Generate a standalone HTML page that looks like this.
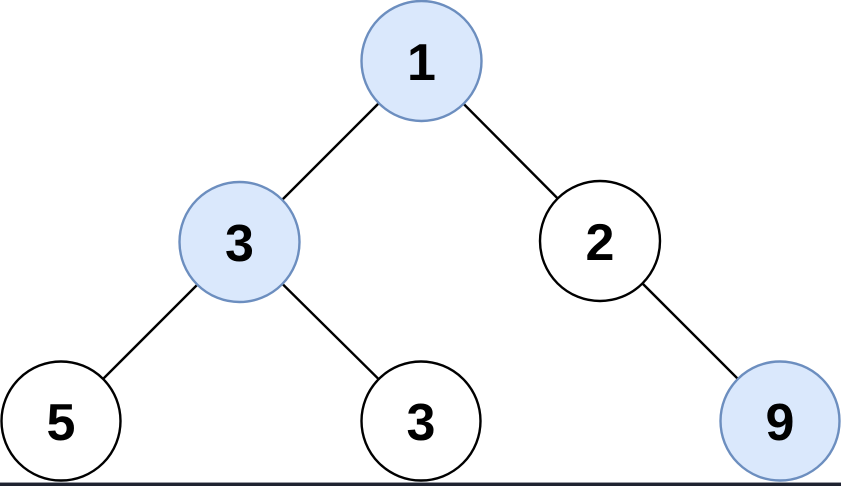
<!DOCTYPE html>
<html>
<head>
<meta charset="utf-8">
<style>
  html, body { margin: 0; padding: 0; background: #ffffff; }
  body { width: 841px; height: 486px; overflow: hidden; position: relative; }
  svg { position: absolute; left: 0; top: 0; }
  text { font-family: "Liberation Sans", Arial, sans-serif; font-weight: bold; font-size: 52px; fill: #000; }
</style>
</head>
<body>
<svg width="841" height="486" viewBox="0 0 841 486" xmlns="http://www.w3.org/2000/svg">
  <rect x="0" y="0" width="841" height="486" fill="#ffffff"/>
  <g stroke="#000" stroke-width="2.4" fill="none">
    <line x1="421" y1="61" x2="240" y2="242"/>
    <line x1="421" y1="61" x2="600" y2="241"/>
    <line x1="240" y1="242" x2="61" y2="421"/>
    <line x1="240" y1="242" x2="421" y2="421"/>
    <line x1="600" y1="241" x2="780" y2="421"/>
  </g>
  <g stroke-width="2.4">
    <circle cx="421.5" cy="61" r="60" fill="#dae8fc" stroke="#6c8ebf"/>
    <circle cx="239.5" cy="242" r="60" fill="#dae8fc" stroke="#6c8ebf"/>
    <circle cx="600" cy="241" r="60" fill="#ffffff" stroke="#000"/>
    <circle cx="61" cy="421" r="59.5" fill="#ffffff" stroke="#000"/>
    <circle cx="421" cy="421" r="59.5" fill="#ffffff" stroke="#000"/>
    <circle cx="780" cy="421" r="59.5" fill="#dae8fc" stroke="#6c8ebf"/>
  </g>
  <g text-anchor="middle">
    <text x="421.5" y="80">1</text>
    <text x="239.5" y="261">3</text>
    <text x="600" y="260">2</text>
    <text x="61" y="440">5</text>
    <text x="421" y="440">3</text>
    <text x="780" y="440">9</text>
  </g>
  <rect x="0" y="482" width="841" height="1" fill="#9a9ca4"/>
  <rect x="0" y="483" width="841" height="3" fill="#1f2330"/>
</svg>
</body>
</html>
